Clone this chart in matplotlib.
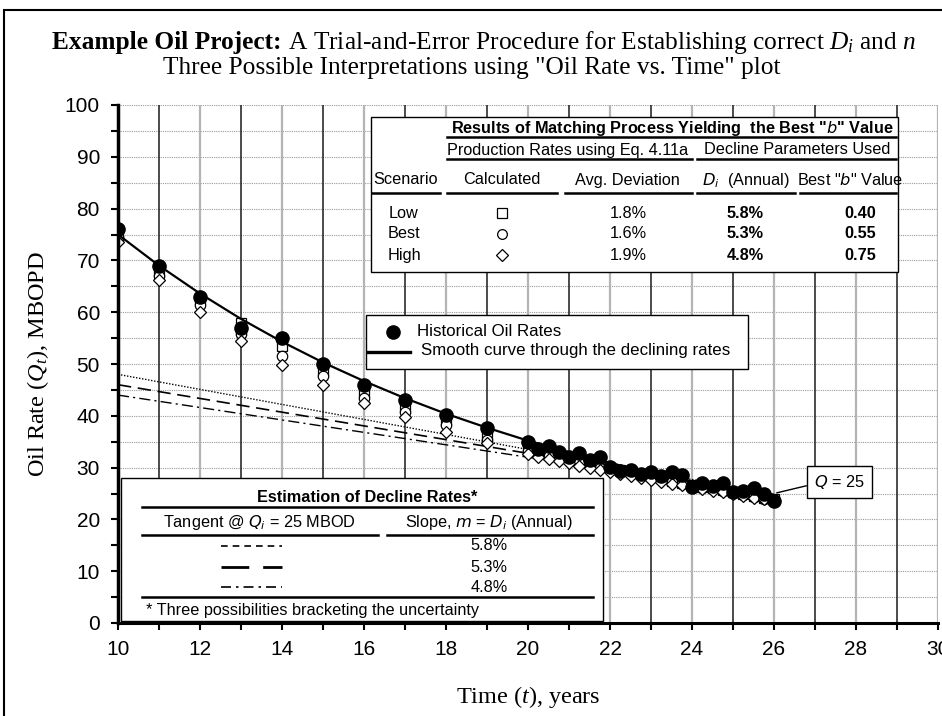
import matplotlib.pyplot as plt
from matplotlib.lines import Line2D
from matplotlib.patches import Rectangle

plt.rcParams['font.family'] = ['Liberation Sans', 'DejaVu Sans']
plt.rcParams['mathtext.fontset'] = 'custom'
plt.rcParams['mathtext.rm'] = 'Liberation Serif'
plt.rcParams['mathtext.it'] = 'Liberation Serif:italic'
plt.rcParams['mathtext.bf'] = 'Liberation Serif:bold'

# 历史产量 (MBOPD)
hist_t = [10, 11, 12, 13, 14, 15, 16, 17, 18, 19,
          20, 20.25, 20.5, 20.75, 21, 21.25, 21.5, 21.75, 22, 22.25, 22.5, 22.75,
          23, 23.25, 23.5, 23.75, 24, 24.25, 24.5, 24.75, 25, 25.25, 25.5, 25.75, 26]
hist_q = [76.0, 69.0, 63.0, 57.0, 55.0, 50.0, 46.0, 43.0, 40.2, 37.6,
          35.0, 33.5, 34.2, 33.1, 32.1, 32.9, 31.5, 32.1, 30.2, 29.3, 29.5, 28.8,
          29.1, 28.4, 29.1, 28.6, 26.2, 27.1, 26.4, 27.0, 25.3, 25.5, 26.0, 24.9, 23.6]

# 三种方案的计算值 (Eq. 4.11a)
calc_low = [75.0, 68.0, 62.5, 58.0, 53.4, 48.8, 44.5, 41.8, 39.2, 36.3,
            33.8, 33.3, 32.8, 32.3, 31.8, 31.3, 30.9, 30.4, 30.0, 29.5, 29.1, 28.7,
            28.3, 27.9, 27.5, 27.1, 26.7, 26.3, 26.0, 25.6, 25.2, 24.9, 24.5, 24.2, 23.9]
calc_best = [74.5, 67.0, 61.3, 55.8, 51.5, 47.6, 43.5, 40.8, 38.2, 35.3,
             33.2, 32.7, 32.2, 31.8, 31.3, 30.9, 30.4, 30.0, 29.6, 29.2, 28.8, 28.4,
             28.0, 27.6, 27.2, 26.9, 26.5, 26.1, 25.8, 25.4, 25.1, 24.7, 24.4, 24.0, 23.7]
calc_high = [73.6, 66.2, 60.0, 54.5, 49.8, 46.0, 42.5, 39.7, 36.9, 34.7,
             32.6, 32.1, 31.7, 31.2, 30.8, 30.4, 30.0, 29.6, 29.2, 28.8, 28.4, 28.0,
             27.6, 27.3, 26.9, 26.6, 26.2, 25.9, 25.5, 25.2, 24.9, 24.6, 24.2, 23.9, 23.6]

# 平滑曲线
curve_t = [10, 11, 12, 13, 14, 15, 16, 17, 18, 19, 20, 21, 22, 23, 24, 25, 26]
curve_q = [75.0, 69.0, 63.6, 58.7, 54.3, 50.3, 46.7, 43.4, 40.4, 37.7, 35.2,
           33.0, 30.9, 29.0, 27.3, 25.7, 24.2]

# 切线 @ Qi = 25
tan_t = [10, 26]
tan_58 = [48.0, 24.8]
tan_53 = [46.0, 24.8]
tan_48 = [44.0, 24.8]

scenarios = ['Low', 'Best', 'High']
avg_dev = ['1.8%', '1.6%', '1.9%']
di_vals = ['5.8%', '5.3%', '4.8%']
b_vals = ['0.40', '0.55', '0.75']

W, H = 942, 716
fig = plt.figure(figsize=(W / 100, H / 100), dpi=100)
renderer = fig.canvas.get_renderer()


def fx(x):
    return x / W


def fy(y):
    return 1 - y / H


def ftext(x, y, s, size=11.7, ha='center', **kw):
    return fig.text(fx(x), fy(y), s, fontsize=size, ha=ha, va='center',
                    math_fontfamily='dejavusans', zorder=7, **kw)


def fline(x0, x1, y, lw=1.8, **kw):
    fig.add_artist(Line2D([fx(x0), fx(x1)], [fy(y), fy(y)], transform=fig.transFigure,
                          color='black', lw=lw, zorder=6, **kw))


def fbox(x0, y0, x1, y1):
    fig.add_artist(Rectangle((fx(x0), fy(y1)), fx(x1) - fx(x0), fy(y0) - fy(y1),
                             transform=fig.transFigure, fc='white', ec='black',
                             lw=1.0, zorder=5))


ax = fig.add_axes([fx(118), fy(623), (938 - 118) / W, (623 - 105) / H])
ax.set_xlim(10, 30)
ax.set_ylim(0, 100)

# 网格
for yr in range(11, 31):
    if yr % 2:
        ax.axvline(yr, color='#1a1a1a', lw=1.1, zorder=0.5)
    else:
        ax.axvline(yr, color='#b4b4b4', lw=1.6, zorder=0.5)
for q in range(5, 101, 5):
    ax.axhline(q, color='#9a9a9a', lw=0.8, ls=(0, (1, 1)), zorder=0.4)

ax.plot(tan_t, tan_58, color='black', lw=1.0, ls=(0, (1, 1.2)), zorder=1)
ax.plot(tan_t, tan_53, color='black', lw=1.2, ls=(0, (8, 4)), zorder=1)
ax.plot(tan_t, tan_48, color='black', lw=1.0, ls=(0, (8, 3, 1.5, 3)), zorder=1)

ax.plot(hist_t, calc_low, ls='none', marker='s', ms=7, mfc='white', mec='black', mew=0.9, zorder=2)
ax.plot(hist_t, calc_best, ls='none', marker='o', ms=7.5, mfc='white', mec='black', mew=0.9, zorder=2.1)
ax.plot(hist_t, calc_high, ls='none', marker='D', ms=6.5, mfc='white', mec='black', mew=0.9, zorder=2.2)
ax.plot(curve_t, curve_q, color='black', lw=1.6, zorder=3)
ax.plot(hist_t, hist_q, ls='none', marker='o', ms=9.5, color='black', zorder=4)

ax.set_xticks(range(10, 31, 2))
ax.set_xticks(range(10, 31), minor=True)
ax.set_yticks(range(0, 101, 10))
ax.set_yticks(range(0, 101, 5), minor=True)
ax.tick_params(which='both', direction='out', length=5, width=1.5, labelsize=15, color='black')
ax.tick_params(axis='x', pad=7)
ax.tick_params(axis='y', pad=8)
for s in ['top', 'right']:
    ax.spines[s].set_visible(False)
ax.spines['left'].set_linewidth(2.5)
ax.spines['bottom'].set_linewidth(2.2)

ax.set_xlabel('Time ($t$), years', family='Liberation Serif', fontsize=17.5, labelpad=18)
ax.set_ylabel('Oil Rate ($Q_t$), MBOPD', family='Liberation Serif', fontsize=17.5, labelpad=10)

ax.annotate('$Q$ = 25', xy=(26, 25.0), xytext=(27.6, 27.2), fontsize=11.7,
            math_fontfamily='dejavusans', ha='center', va='center', zorder=8,
            bbox=dict(boxstyle='square,pad=0.45', fc='white', ec='black', lw=1),
            arrowprops=dict(arrowstyle='-', lw=1, color='black', relpos=(0, 0.4),
                            shrinkA=0, shrinkB=2))

# 图例
fbox(366, 315, 748, 369)
fig.add_artist(Line2D([fx(393)], [fy(332)], transform=fig.transFigure, marker='o', ms=9.5,
                      color='black', ls='none', zorder=7))
fline(368, 410, 352, lw=2.4)
ftext(417, 331, 'Historical Oil Rates', size=12.2, ha='left')
ftext(421, 350, 'Smooth curve through the declining rates', size=12.2, ha='left')

# 标题
tsize = 18.3
t1 = fig.text(0, fy(42), 'Example Oil Project:', ha='left', va='center',
              family='Liberation Serif', weight='bold', fontsize=tsize)
t2 = fig.text(0, fy(42), ' A Trial-and-Error Procedure for Establishing correct $D_i$ and $n$',
              ha='left', va='center', family='Liberation Serif', fontsize=tsize)
w1 = t1.get_window_extent(renderer).width
w2 = t2.get_window_extent(renderer).width
x_start = 484 - (w1 + w2) / 2
t1.set_x(fx(x_start))
t2.set_x(fx(x_start + w1))
fig.text(fx(472), fy(68), 'Three Possible Interpretations using "Oil Rate vs. Time" plot',
         ha='center', va='center', family='Liberation Serif', fontsize=tsize)

# 外框
fig.add_artist(Rectangle((fx(4), -0.05), 1.2, fy(10) + 0.05, transform=fig.transFigure,
                         fill=False, ec='black', lw=1.5, zorder=10))

# 右上表格
fbox(371, 117, 898, 272)
ftext(672, 128, r'Results of Matching Process Yielding  the Best "$b$" Value', weight='bold')
fline(447, 896, 137)
ftext(568, 150, 'Production Rates using Eq. 4.11a')
ftext(797, 150, 'Decline Parameters Used')
fline(447, 692, 159)
fline(697, 896, 159)
ftext(406, 180, 'Scenario')
ftext(502, 180, 'Calculated')
ftext(627, 180, 'Avg. Deviation')
ftext(746, 180, r'$D_i$  (Annual)')
ftext(850, 180, r'Best "$b$" Value')
fline(372, 440, 193)
fline(447, 557, 193)
fline(565, 692, 193)
fline(697, 795, 193)
fline(800, 896, 193)
row_y = [213, 234, 255]
for i, name in enumerate(scenarios):
    ftext(404, row_y[i], name)
    ftext(628, row_y[i], avg_dev[i])
    ftext(745, row_y[i], di_vals[i], weight='bold')
    ftext(860, row_y[i], b_vals[i], weight='bold')
for i, mk in enumerate(['s', 'o', 'D']):
    fig.add_artist(Line2D([fx(502)], [fy(row_y[i])], transform=fig.transFigure, marker=mk,
                          ms=7 if mk != 'D' else 6, mfc='white', mec='black', mew=0.9,
                          ls='none', zorder=7))

# 左下表格
fbox(121, 478, 603, 621)
ftext(367, 497, 'Estimation of Decline Rates*', weight='bold')
fline(142, 593, 507)
ftext(259, 523, r'Tangent @ $Q_i$ = 25 MBOD')
ftext(489, 523, r'Slope, $m$ = $D_i$ (Annual)')
fline(142, 378, 535)
fline(387, 593, 535)
samples = [dict(lw=1.2, ls=(0, (4, 3))), dict(lw=2.0, ls=(0, (10, 5))),
           dict(lw=1.2, ls=(0, (6, 3, 1.5, 3)))]
samp_y = [546, 567, 587]
for i, st in enumerate(samples):
    fline(221, 282, samp_y[i], **st)
    ftext(489, samp_y[i], di_vals[i])
fline(142, 593, 597)
ftext(146, 610, '* Three possibilities bracketing the uncertainty', ha='left')

fig.savefig('out.png', dpi=100)
